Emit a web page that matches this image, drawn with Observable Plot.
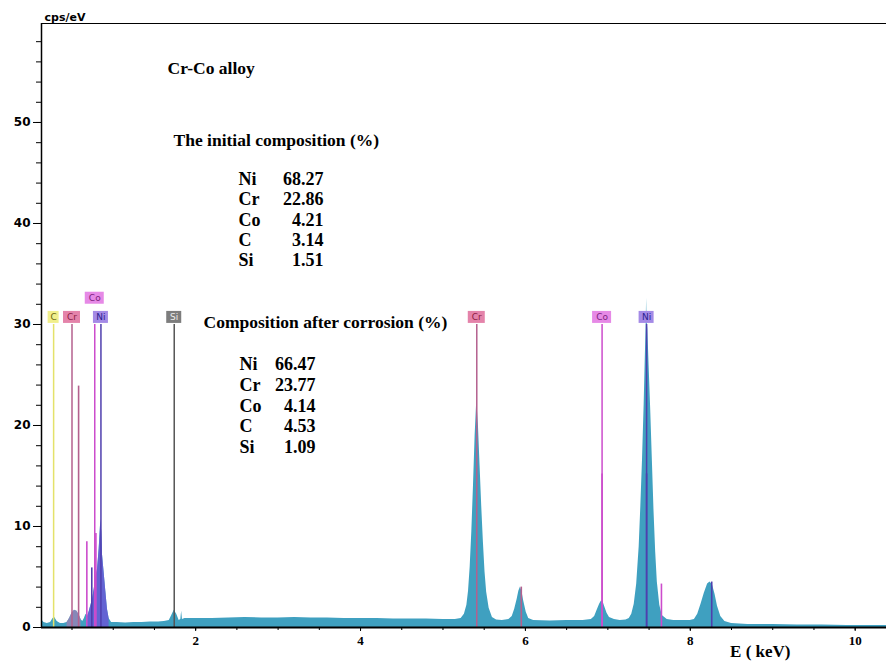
<!DOCTYPE html>
<html><head><meta charset="utf-8">
<script src="https://cdn.jsdelivr.net/npm/d3@7"></script>
<script src="https://cdn.jsdelivr.net/npm/@observablehq/plot@0.6"></script>
<style>body{margin:0;background:#fff}#chart svg{display:block}</style>
</head><body><div id="chart"></div>
<script>
// ---- spectrum readings (E in keV, intensity in cps/eV) ----
const spectrumE = [
  0.13,0.16,0.20,0.24,0.27,0.29,0.32,0.36,0.40,0.44,
  0.47,0.50,0.53,0.56,0.59,0.61,0.63,0.65,0.67,0.69,
  0.71,0.73,0.75,0.77,0.79,0.81,0.83,0.85,0.86,0.87,
  0.89,0.91,0.93,0.95,0.98,1.05,1.15,1.25,1.35,1.45,
  1.55,1.62,1.68,1.71,1.74,1.77,1.80,1.82,1.83,1.84,
  1.87,1.92,2.0,2.2,2.4,2.6,2.8,3.0,3.2,3.4,
  3.6,3.8,4.0,4.2,4.4,4.6,4.8,5.0,5.15,5.22,
  5.26,5.29,5.31,5.33,5.35,5.37,5.39,5.41,5.43,5.45,
  5.47,5.49,5.51,5.53,5.56,5.60,5.65,5.72,5.80,
  5.84,5.87,5.90,5.92,5.94,5.96,5.98,6.01,6.04,6.10,
  6.30,6.50,6.70,6.80,6.84,6.87,6.90,6.92,6.94,6.96,
  6.99,7.02,7.08,7.15,7.22,7.26,7.29,7.32,7.35,7.38,
  7.40,7.42,7.44,7.455,7.465,7.47,7.475,7.485,7.50,7.52,
  7.54,7.56,7.58,7.60,7.63,7.66,7.72,7.80,7.90,8.00,8.05,
  8.09,8.13,8.17,8.21,8.24,8.27,8.30,8.33,8.37,8.42,
  8.50,8.70,9.00,9.30,9.60,9.90,10.20,10.38
];
const spectrumCps = [
  0.8,0.5,0.4,0.5,0.9,1.0,0.6,0.4,0.4,0.5,
  0.9,1.4,1.7,1.6,1.2,0.8,0.6,0.9,1.3,1.1,
  1.6,2.2,2.8,3.8,5.0,5.8,7.8,10.7,9.5,7.2,
  5.4,3.6,1.8,0.9,0.5,0.5,0.45,0.5,0.5,0.55,
  0.55,0.6,0.7,1.2,1.7,1.3,0.7,0.8,1.6,0.8,
  0.9,0.9,0.9,0.9,0.95,1.0,0.95,0.95,1.0,0.95,
  0.95,0.9,0.9,0.9,0.85,0.85,0.85,0.8,0.8,0.9,
  1.3,2.2,3.6,6,9.5,14,19,22.5,20,16,
  12,8.5,5.5,3.5,1.9,1.0,0.75,0.7,0.8,
  1.1,1.8,2.8,3.6,4.0,3.5,2.6,1.5,0.9,0.7,
  0.65,0.7,0.7,0.8,1.1,1.7,2.3,2.6,2.6,2.1,
  1.4,1.0,0.8,0.7,0.75,0.9,1.3,2.3,4.3,8,
  12,16.5,22,27,30,32.6,30.5,29.5,26,21.5,
  16.5,11.5,7.5,4.5,2.2,1.2,0.8,0.7,0.7,0.7,0.8,
  1.3,2.3,3.4,4.3,4.5,4.2,3.3,2.1,1.1,0.6,
  0.4,0.3,0.3,0.25,0.25,0.2,0.2,0.2
];

// ---- labelled element markers ----
const markerElements = ["C","Cr","Co","Ni","Si","Cr","Co","Ni"];
const markerEnergy   = [0.277,0.50,0.776,0.851,1.74,5.41,6.93,7.47];

// ---- secondary element lines ----
const lineElements = ["Cr","Co","Ni","Co","Cr","Co","Ni","Co","Ni"];
const lineEnergy   = [0.58,0.68,0.74,0.79,5.95,6.93,7.47,7.65,8.26];
const lineTop      = [23.9,8.5,5.9,9.3,4.0,15.2,15.2,4.3,4.5];

// ---- composition tables ----
const tableElements = ["Ni","Cr","Co","C","Si"];
const initialComposition = ["68.27","22.86","4.21","3.14","1.51"];
const afterComposition   = ["66.47","23.77","4.14","4.53","1.09"];

const yTicks = [0,10,20,30,40,50];
const xTicks = [2,4,6,8,10];

// ---- styles ----
const elementStyle = {
  C:  {line:"#e4e26a", box:"#f1ef8c", text:"#6b6a10", w:11},
  Cr: {line:"#b4608e", box:"#e483aa", text:"#8d1d45", w:17},
  Co: {line:"#cc4ccc", box:"#e689e6", text:"#7d1f80", w:19},
  Ni: {line:"#4f3fae", box:"#a48ae6", text:"#2b1f8f", w:15},
  Si: {line:"#555555", box:"#7d7d7d", text:"#ececec", w:15}
};
const serif = "'Liberation Serif', 'Times New Roman', serif";
const sans = "'DejaVu Sans', sans-serif";
const xDomain = [0.13, 10.38];
const yDomain = [0, 59.8];
const markerTop = 30;
const labelLevel = 30.7, raisedLevel = 32.6;

const spectrum = spectrumE.map((E, i) => ({E, cps: spectrumCps[i]}));
const markers = markerElements.map((el, i) => {
  const next = markerEnergy[i + 1];
  const raised = next !== undefined && next - markerEnergy[i] < 0.1;
  return {el, E: markerEnergy[i], ly: raised ? raisedLevel : labelLevel};
});
const lines = lineElements.map((el, i) => ({el, E: lineEnergy[i], top: lineTop[i]}));

const boxMarks = Object.keys(elementStyle).map(el => {
  const s = elementStyle[el];
  return Plot.rect(markers.filter(d => d.el === el), {
    x1: "E", x2: "E", y1: "ly", y2: "ly",
    insetLeft: -s.w / 2, insetRight: -s.w / 2, insetTop: -6, insetBottom: -6,
    fill: s.box
  });
});

const headStyle = {fontFamily: serif, fontWeight: "bold", fontSize: 17.5, fill: "black"};
const tableStyle = {fontFamily: serif, fontWeight: "bold", fontSize: 18, fill: "black"};

const chart = Plot.plot({
  width: 886, height: 662,
  marginLeft: 41, marginRight: 0, marginTop: 23, marginBottom: 35,
  x: {domain: xDomain},
  y: {domain: yDomain},
  color: {type: "identity"},
  style: {background: "white", overflow: "visible"},
  marks: [
    Plot.areaY(spectrum, {x: "E", y: "cps", fill: "#3fa0c0"}),
    Plot.areaY(spectrum.filter(d => d.E >= 0.44 && d.E <= 0.62), {x: "E", y: "cps", fill: "#a57db5", fillOpacity: 0.7}),
    Plot.areaY(spectrum.filter(d => d.E >= 0.69 && d.E <= 0.95), {x: "E", y: "cps", fill: "#6a58d6", fillOpacity: 0.85}),
    Plot.ruleX(markers, {x: "E", y1: 0, y2: markerTop, stroke: d => elementStyle[d.el].line, strokeWidth: 1.5}),
    Plot.ruleX(lines, {x: "E", y1: 0, y2: "top", stroke: d => elementStyle[d.el].line, strokeWidth: 1.6}),
    ...boxMarks,
    Plot.text(markers, {x: "E", y: "ly", text: "el", fill: d => elementStyle[d.el].text, fontSize: 9, fontFamily: sans}),
    // axes
    Plot.axisY({ticks: d3.range(0, 60, 2), tickSize: 5, tickFormat: () => "", label: null}),
    Plot.axisY({ticks: yTicks, tickSize: 8, tickPadding: 3, fontSize: 12, fontWeight: "bold", fontFamily: sans, label: null}),
    Plot.axisX({ticks: d3.range(0.5, 10.5, 0.5), tickSize: 3, tickFormat: () => "", label: null}),
    Plot.axisX({ticks: xTicks, tickSize: 4, tickPadding: 4, fontSize: 13, fontWeight: "bold", fontFamily: serif, label: null}),
    Plot.ruleY([0], {stroke: "black", strokeWidth: 2.2}),
    Plot.ruleX([xDomain[0]], {stroke: "black", strokeWidth: 1.5}),
    Plot.ruleY([yDomain[1]], {stroke: "black", strokeWidth: 1.2}),
    Plot.text(["cps/eV"], {text: d => d, frameAnchor: "top-left", dx: 3, dy: -6, textAnchor: "start", lineAnchor: "middle", fontSize: 11, fontWeight: "bold", fontFamily: sans}),
    Plot.text(["E ( keV)"], {text: d => d, frameAnchor: "bottom-right", dx: -96, dy: 24, textAnchor: "end", lineAnchor: "middle", fontSize: 17, fontWeight: "bold", fontFamily: serif}),
    // annotations
    Plot.text(["Cr-Co alloy"], {text: d => d, frameAnchor: "top-left", dx: 126, dy: 45, textAnchor: "start", lineAnchor: "middle", ...headStyle}),
    Plot.text(["The initial composition (%)"], {text: d => d, frameAnchor: "top-left", dx: 132, dy: 117, textAnchor: "start", lineAnchor: "middle", ...headStyle}),
    Plot.text([tableElements.join("\n")], {text: d => d, frameAnchor: "top-left", dx: 197, dy: 195.5, lineHeight: 1.128, textAnchor: "start", lineAnchor: "middle", ...tableStyle}),
    Plot.text([initialComposition.join("\n")], {text: d => d, frameAnchor: "top-left", dx: 282, dy: 195.5, lineHeight: 1.128, textAnchor: "end", lineAnchor: "middle", ...tableStyle}),
    Plot.text(["Composition after corrosion (%)"], {text: d => d, frameAnchor: "top-left", dx: 162, dy: 299, textAnchor: "start", lineAnchor: "middle", ...headStyle}),
    Plot.text([tableElements.join("\n")], {text: d => d, frameAnchor: "top-left", dx: 198, dy: 381.5, lineHeight: 1.153, textAnchor: "start", lineAnchor: "middle", ...tableStyle}),
    Plot.text([afterComposition.join("\n")], {text: d => d, frameAnchor: "top-left", dx: 274, dy: 381.5, lineHeight: 1.153, textAnchor: "end", lineAnchor: "middle", ...tableStyle})
  ]
});
document.getElementById("chart").appendChild(chart);
</script>
</body></html>
